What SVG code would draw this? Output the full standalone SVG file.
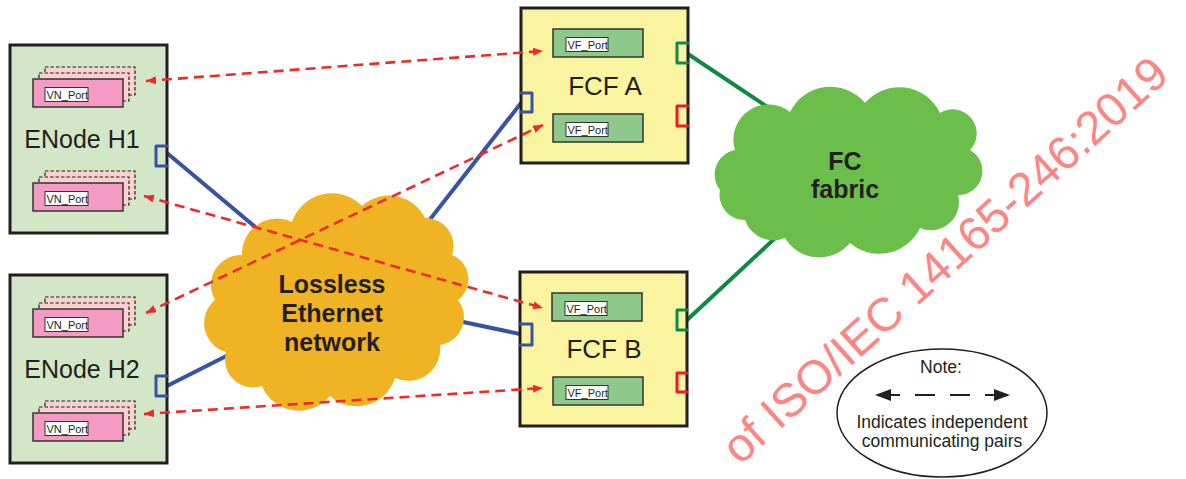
<svg xmlns="http://www.w3.org/2000/svg" xmlns:xlink="http://www.w3.org/1999/xlink" width="1186" height="479" viewBox="0 0 1186 479">
<style>
.node{stroke:#231f20;stroke-width:3}
.enode{fill:#d3e7c8}
.fcf{fill:#faf3a0}
.big{font-family:"Liberation Sans",Arial,sans-serif;fill:#231f20;text-anchor:middle}
.lbl{font-family:"Liberation Sans",Arial,sans-serif;fill:#231f20;font-size:11px}
.port{fill:none;stroke-width:3;stroke-linecap:round;stroke-linejoin:round}
.blue{stroke:#3953a4}
.green{stroke:#0f8a44}
.red{stroke:#ed1c24}
.link{fill:none;stroke-width:4}
.pair{fill:none;stroke:#ed2b2b;stroke-width:2.6;stroke-dasharray:10 6;marker-start:url(#ah);marker-end:url(#ah)}
.back{fill:#fad0d0;stroke:#231f20;stroke-width:1.2;stroke-dasharray:3.5 2}
.vn{fill:#f59bc3;stroke:#333;stroke-width:1.5}
.vf{fill:#8dc98a;stroke:#333;stroke-width:1.5}
.lb{fill:#fff;stroke:#333;stroke-width:1}
.note{font-family:"Liberation Sans",Arial,sans-serif;fill:#231f20;font-size:17.5px;text-anchor:middle}
</style>
<defs>
<marker id="ah" viewBox="0 0 10 8" refX="10" refY="4" markerWidth="10" markerHeight="8" markerUnits="userSpaceOnUse" orient="auto-start-reverse">
<path d="M0,0 L10,4 L0,8 z" fill="#ed2b2b"/>
</marker>
<g id="vnstack">
<rect class="back" x="12" y="-12" width="90" height="28"/>
<rect class="back" x="6" y="-6" width="90" height="28"/>
<rect class="vn" x="0" y="0" width="90" height="28"/>
<rect class="lb" x="12" y="8.5" width="43" height="14"/>
<text class="lbl" x="13.5" y="19.8">VN_Port</text>
</g>
<g id="vfport">
<rect class="vf" x="0" y="0" width="90" height="28"/>
<rect class="lb" x="13" y="8.5" width="42" height="14"/>
<text class="lbl" x="14.5" y="19.8">VF_Port</text>
</g>
</defs>

<g id="connectors">
<line class="link blue" x1="167" y1="153" x2="290" y2="256"/>
<line class="link blue" x1="167" y1="386" x2="262" y2="338"/>
<line class="link blue" x1="521" y1="103" x2="410" y2="245"/>
<line class="link blue" x1="520" y1="334" x2="430" y2="315"/>
<line class="link green" x1="688" y1="54" x2="805" y2="132"/>
<line class="link green" x1="687" y1="320" x2="800" y2="215"/>
</g>

<g id="lossless-cloud">
<path fill="#f0b323" d="M215,300 A30,30 0 0 1 242,255 A35,35 0 0 1 292,222 A42,42 0 0 1 362,206 A40,40 0 0 1 425,218 A28,28 0 0 1 452,255 A26,26 0 0 1 458,300 A28,28 0 0 1 440,345 A32,32 0 0 1 395,378 A40,40 0 0 1 330,396 A40,40 0 0 1 262,386 A28,28 0 0 1 226,352 A30,30 0 0 1 215,300 Z"/>
<text class="big" font-weight="bold" font-size="25" x="332" y="293">Lossless</text>
<text class="big" font-weight="bold" font-size="25" x="332" y="322">Ethernet</text>
<text class="big" font-weight="bold" font-size="25" x="332" y="351">network</text>
</g>

<g id="fc-fabric">
<path fill="#6cbe4a" d="M720,190 A25,25 0 0 1 735,150 A35,35 0 0 1 790,112 A45,45 0 0 1 865,103 A45,45 0 0 1 940,113 A24,24 0 0 1 970,150 A24,24 0 0 1 958,195 A28,28 0 0 1 920,228 A45,45 0 0 1 850,243 A40,40 0 0 1 785,238 A30,30 0 0 1 745,220 A25,25 0 0 1 720,190 Z"/>
<text class="big" font-weight="bold" font-size="25" x="845" y="170">FC</text>
<text class="big" font-weight="bold" font-size="25" x="845" y="198">fabric</text>
</g>

<g id="enode-h1">
<rect class="node enode" x="10" y="45" width="157" height="188"/>
<use xlink:href="#vnstack" x="33" y="79"/>
<use xlink:href="#vnstack" x="33" y="183"/>
<text class="big" font-size="25" x="82" y="148">ENode H1</text>
<path class="port blue" d="M167,146 H156 V166 H167"/>
</g>

<g id="enode-h2">
<rect class="node enode" x="10" y="275" width="157" height="188"/>
<use xlink:href="#vnstack" x="33" y="309"/>
<use xlink:href="#vnstack" x="33" y="413"/>
<text class="big" font-size="25" x="82" y="378">ENode H2</text>
<path class="port blue" d="M167,376 H156 V396 H167"/>
</g>

<g id="fcf-a">
<rect class="node fcf" x="521" y="8" width="167" height="155"/>
<use xlink:href="#vfport" x="553" y="29"/>
<use xlink:href="#vfport" x="553" y="114"/>
<text class="big" font-size="26" x="605" y="95">FCF A</text>
<path class="port blue" d="M521,93 H532 V112 H521"/>
<path class="port green" d="M688,43 H677 V63 H688"/>
<path class="port red" d="M688,106 H677 V126 H688"/>
</g>

<g id="fcf-b">
<rect class="node fcf" x="520" y="272" width="167" height="154"/>
<use xlink:href="#vfport" x="552" y="293"/>
<use xlink:href="#vfport" x="553" y="377"/>
<text class="big" font-size="26" x="604" y="358">FCF B</text>
<path class="port blue" d="M520,324 H532 V345 H520"/>
<path class="port green" d="M687,310 H677 V330 H687"/>
<path class="port red" d="M687,373 H677 V392 H687"/>
</g>

<g id="pairs">
<line class="pair" x1="146" y1="81" x2="543" y2="51"/>
<line class="pair" x1="144" y1="196" x2="543" y2="308"/>
<line class="pair" x1="146" y1="313" x2="543" y2="125"/>
<line class="pair" x1="144" y1="414" x2="543" y2="388"/>
</g>

<text font-family="'Liberation Sans',Arial,sans-serif" font-size="47" fill="#ff7373" fill-opacity="0.9" transform="translate(740,466) rotate(-42)">of ISO/IEC 14165-246:2019</text>

<g id="note">
<ellipse cx="942" cy="413" rx="105" ry="64" fill="none" stroke="#231f20" stroke-width="1.5"/>
<text class="note" x="941" y="373">Note:</text>
<path d="M889,395 H900 M915,395 H935 M950,395 H970 M985,395 H996" stroke="#231f20" stroke-width="2.2" fill="none"/>
<path d="M875,395 L891,389 L891,401 Z M1010,395 L994,389 L994,401 Z" fill="#231f20"/>
<text class="note" x="942" y="428">Indicates independent</text>
<text class="note" x="942" y="447">communicating pairs</text>
</g>
</svg>
